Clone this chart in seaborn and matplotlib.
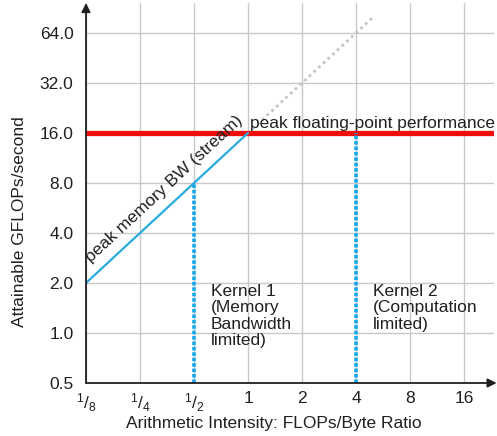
import matplotlib
matplotlib.use("Agg")
import matplotlib.pyplot as plt
import seaborn as sns
import pandas as pd

# ---- data ----
x_ticks = [0.125, 0.25, 0.5, 1, 2, 4, 8, 16]
x_tick_labels = [r"$^{1}/_{8}$", r"$^{1}/_{4}$", r"$^{1}/_{2}$", "1", "2", "4", "8", "16"]
y_ticks = [0.5, 1, 2, 4, 8, 16, 32, 64]
y_tick_labels = ["0.5", "1.0", "2.0", "4.0", "8.0", "16.0", "32.0", "64.0"]

mem_x = [0.125, 1]
mem_y = [2, 16]
ext_x = [1, 5]
ext_y = [16, 80]
peak_x = [0.125, 32]
peak_y = [16, 16]
kernel_names = ["Kernel 1\n(Memory\nBandwidth\nlimited)", "Kernel 2\n(Computation\nlimited)"]
kernel_x = [0.5, 4]
kernel_top = [8, 16]

sns.set_theme(style="white")
plt.rcParams["font.family"] = ["Liberation Sans", "DejaVu Sans"]
plt.rcParams["mathtext.fontset"] = "custom"
plt.rcParams["mathtext.rm"] = "Liberation Sans"
plt.rcParams["mathtext.it"] = "Liberation Sans"
plt.rcParams["mathtext.bf"] = "Liberation Sans"
TXT = "#231f20"
FS = 12.5

fig = plt.figure(figsize=(4.97, 4.36), dpi=100)
W, H = 497, 436
left, right, top, bottom = 86, 494, 3, 383
ax = fig.add_axes([left / W, 1 - bottom / H, (right - left) / W, (bottom - top) / H])
ax.set_xscale("log", base=2)
ax.set_yscale("log", base=2)
ax.set_xlim(0.125, 0.125 * 2 ** ((right - left) / 54.0))
ax.set_ylim(0.5, 0.5 * 2 ** ((bottom - top) / 50.0))

ax.set_xticks(x_ticks)
ax.set_xticklabels(x_tick_labels)
ax.set_yticks(y_ticks)
ax.set_yticklabels(y_tick_labels)
ax.minorticks_off()
ax.tick_params(axis="both", length=0, labelsize=FS, colors=TXT)
ax.tick_params(axis="y", pad=9)
ax.tick_params(axis="x", pad=6)
ax.grid(True, color="#c8c8ca", lw=1.0)
ax.set_axisbelow(True)
for s in ax.spines.values():
    s.set_visible(False)

# axis arrows
ax.annotate("", xy=(0, 1.0), xytext=(0, 0), xycoords="axes fraction",
            arrowprops=dict(arrowstyle="-|>", color="#231f20", lw=1.3, mutation_scale=13,
                            shrinkA=0, shrinkB=0), annotation_clip=False)
ax.annotate("", xy=(1.0065, 0), xytext=(0, 0), xycoords="axes fraction",
            arrowprops=dict(arrowstyle="-|>", color="#231f20", lw=1.3, mutation_scale=13,
                            shrinkA=0, shrinkB=0), annotation_clip=False)

# lines
sns.lineplot(x=ext_x, y=ext_y, ax=ax, color="#c4c4c4", lw=2, linestyle=(0, (1, 1.3)))
sns.lineplot(x=peak_x, y=peak_y, ax=ax, color="#f20d0d", lw=3.8)
sns.lineplot(x=mem_x, y=mem_y, ax=ax, color="#29abe2", lw=1.6)
for kx, kt in zip(kernel_x, kernel_top):
    sns.lineplot(x=[kx, kx], y=[0.5, kt], ax=ax, color="#12a9ec", lw=2.6,
                 linestyle=(0, (1, 0.5)), estimator=None, sort=False)

# texts
ax.annotate("peak memory BW (stream)", xy=(0.125, 2), xytext=(5, 20),
            textcoords="offset pixels", rotation=42.8, rotation_mode="anchor",
            ha="left", va="baseline", fontsize=FS, color=TXT)
ax.annotate("peak floating-point performance", xy=(1.0, 16), xytext=(2, 5),
            textcoords="offset pixels", ha="left", va="baseline", fontsize=FS, color=TXT)
for name, kx in zip(kernel_names, kernel_x):
    ax.annotate(name, xy=(kx, 2), xytext=(17, -1), textcoords="offset pixels",
                ha="left", va="top", fontsize=FS, color=TXT, linespacing=1.12)

ax.set_xlabel("Arithmetic Intensity: FLOPs/Byte Ratio", fontsize=FS, color=TXT)
ax.set_ylabel("Attainable GFLOPs/second", fontsize=FS, color=TXT)
ax.xaxis.set_label_coords((274 - left) / (right - left), (bottom - 423) / (bottom - top))
ax.yaxis.set_label_coords((20 - left) / (right - left), (bottom - 222) / (bottom - top))
ax.xaxis.label.set_va("center")
ax.yaxis.label.set_va("center")

fig.savefig("out.png", dpi=100)
